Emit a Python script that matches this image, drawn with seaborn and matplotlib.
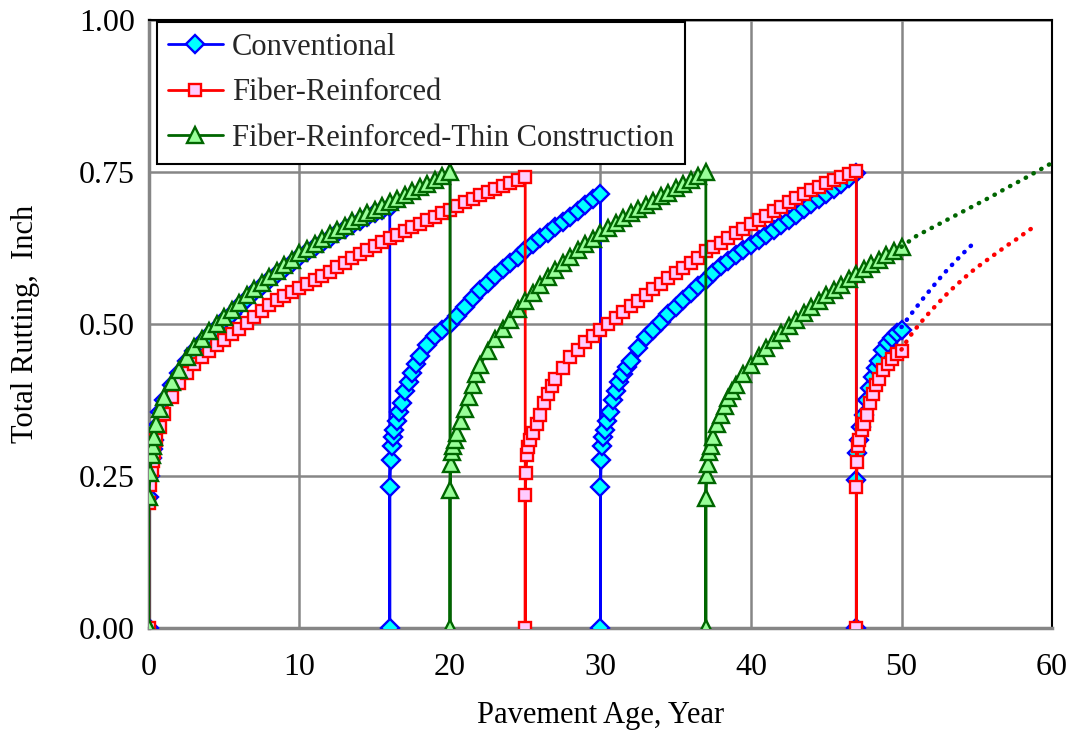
import numpy as np
import pandas as pd
import matplotlib
matplotlib.use('Agg')
import matplotlib.pyplot as plt
import seaborn as sns

# ---- data (age in years, total rutting in inch) ----
conv_age = [0, 0, 0.08, 0.17, 0.25, 0.33, 0.5, 0.75, 1,
            1.5, 2, 2.5, 3, 3.5, 4, 4.5, 5, 5.5, 6, 6.5, 7, 7.5, 8, 8.5, 9, 9.5, 10,
            10.5, 11, 11.5, 12, 12.5, 13, 13.5, 14, 14.5, 15, 15.5, 16,
            16, 16, 16.05, 16.12, 16.2, 16.3, 16.45, 16.6, 16.8, 17, 17.25, 17.5, 17.75, 18,
            18.5, 19, 19.5, 20, 20.5, 21, 21.5, 22, 22.5, 23, 23.5, 24, 24.5, 25,
            25.5, 26, 26.5, 27, 27.5, 28, 28.5, 29, 29.5, 30,
            30, 30, 30.05, 30.12, 30.2, 30.3, 30.45, 30.6, 30.8, 31, 31.25, 31.5, 31.75, 32,
            32.5, 33, 33.5, 34, 34.5, 35, 35.5, 36, 36.5, 37, 37.5, 38, 38.5, 39, 39.5, 40,
            40.5, 41, 41.5, 42, 42.5, 43, 43.5, 44, 44.5, 45, 45.5, 46, 46.5, 47,
            47, 47, 47.05, 47.15, 47.3, 47.5, 47.7, 47.9, 48.1, 48.3, 48.5, 48.8, 49.1, 49.4, 49.7, 50]
conv_rut = [0, 0.215, 0.25, 0.28, 0.295, 0.31, 0.33, 0.355, 0.375,
            0.40, 0.42, 0.44, 0.456, 0.47, 0.482, 0.494, 0.506, 0.517, 0.529, 0.541, 0.552, 0.562,
            0.572, 0.582, 0.591, 0.60, 0.61, 0.618, 0.626, 0.634, 0.642, 0.649, 0.656, 0.663,
            0.67, 0.676, 0.682, 0.688, 0.693,
            0, 0.232, 0.276, 0.30, 0.315, 0.325, 0.34, 0.355, 0.37, 0.39, 0.405, 0.42, 0.435, 0.448,
            0.465, 0.48, 0.49, 0.50, 0.514, 0.528, 0.542, 0.556, 0.568, 0.579, 0.59, 0.60, 0.611, 0.622,
            0.632, 0.641, 0.65, 0.659, 0.667, 0.676, 0.686, 0.695, 0.705, 0.714,
            0, 0.232, 0.276, 0.30, 0.315, 0.325, 0.34, 0.355, 0.375, 0.39, 0.405, 0.418, 0.43, 0.44,
            0.46, 0.478, 0.49, 0.503, 0.516, 0.528, 0.54, 0.551, 0.562, 0.573, 0.584, 0.595, 0.604,
            0.613, 0.622, 0.63, 0.638, 0.646, 0.655, 0.663, 0.671, 0.68, 0.689, 0.697, 0.706, 0.714,
            0.722, 0.731, 0.74, 0.748,
            0, 0.243, 0.288, 0.31, 0.33, 0.35, 0.375, 0.395, 0.413, 0.428, 0.44, 0.457, 0.468, 0.477, 0.485, 0.49]

fib_age = [0, 0, 0.08, 0.17, 0.25, 0.33, 0.5, 0.75, 1,
           1.5, 2, 2.5, 3, 3.5, 4, 4.5, 5, 5.5, 6, 6.5, 7, 7.5, 8, 8.5, 9, 9.5, 10,
           10.5, 11, 11.5, 12, 12.5, 13, 13.5, 14, 14.5, 15, 15.5, 16, 16.5, 17, 17.5, 18,
           18.5, 19, 19.5, 20, 20.5, 21, 21.5, 22, 22.5, 23, 23.5, 24, 24.5, 25,
           25, 25, 25.05, 25.12, 25.2, 25.35, 25.5, 25.75, 26, 26.25, 26.5, 26.75, 27,
           27.5, 28, 28.5, 29, 29.5, 30, 30.5, 31, 31.5, 32, 32.5, 33, 33.5, 34, 34.5, 35,
           35.5, 36, 36.5, 37, 37.5, 38, 38.5, 39, 39.5, 40, 40.5, 41, 41.5, 42, 42.5, 43,
           43.5, 44, 44.5, 45, 45.5, 46, 46.5, 47,
           47, 47, 47.05, 47.12, 47.2, 47.35, 47.5, 47.7, 47.9, 48.1, 48.3, 48.5, 48.8, 49.1, 49.4, 49.7, 50]
fib_rut = [0, 0.205, 0.235, 0.26, 0.275, 0.29, 0.31, 0.33, 0.352,
           0.38, 0.403, 0.42, 0.435, 0.445, 0.455, 0.465, 0.474, 0.483, 0.492, 0.501, 0.511, 0.521,
           0.531, 0.539, 0.546, 0.553, 0.559, 0.566, 0.572, 0.579, 0.585, 0.593, 0.601, 0.608, 0.615,
           0.621, 0.628, 0.635, 0.641, 0.647, 0.653, 0.659, 0.665, 0.671, 0.676, 0.682, 0.688, 0.694,
           0.70, 0.706, 0.712, 0.717, 0.722, 0.727, 0.732, 0.737, 0.742,
           0, 0.219, 0.255, 0.285, 0.297, 0.31, 0.32, 0.335, 0.35, 0.37, 0.385, 0.398, 0.41,
           0.428, 0.445, 0.458, 0.47, 0.48, 0.49, 0.50, 0.51, 0.52, 0.529, 0.538, 0.548, 0.557, 0.566,
           0.575, 0.584, 0.592, 0.60, 0.608, 0.62, 0.627, 0.634, 0.642, 0.649, 0.656, 0.664, 0.671,
           0.678, 0.686, 0.693, 0.701, 0.708, 0.714, 0.72, 0.726, 0.732, 0.737, 0.742, 0.747, 0.752,
           0, 0.232, 0.273, 0.30, 0.31, 0.325, 0.335, 0.35, 0.37, 0.385, 0.40, 0.41, 0.425, 0.435,
           0.443, 0.45, 0.456]

thin_age = [0, 0, 0.08, 0.17, 0.25, 0.33, 0.5, 0.75, 1,
            1.5, 2, 2.5, 3, 3.5, 4, 4.5, 5, 5.5, 6, 6.5, 7, 7.5, 8, 8.5, 9, 9.5, 10,
            10.5, 11, 11.5, 12, 12.5, 13, 13.5, 14, 14.5, 15, 15.5, 16, 16.5, 17, 17.5, 18,
            18.5, 19, 19.5, 20,
            20, 20, 20.05, 20.12, 20.2, 20.35, 20.5, 20.75, 21, 21.25, 21.5, 21.75, 22,
            22.5, 23, 23.5, 24, 24.5, 25, 25.5, 26, 26.5, 27, 27.5, 28, 28.5, 29, 29.5, 30,
            30.5, 31, 31.5, 32, 32.5, 33, 33.5, 34, 34.5, 35, 35.5, 36, 36.5, 37,
            37, 37, 37.05, 37.12, 37.2, 37.35, 37.5, 37.75, 38, 38.25, 38.5, 38.75, 39,
            39.5, 40, 40.5, 41, 41.5, 42, 42.5, 43, 43.5, 44, 44.5, 45, 45.5, 46, 46.5, 47,
            47.5, 48, 48.5, 49, 49.5, 50]
thin_rut = [0, 0.215, 0.255, 0.285, 0.30, 0.315, 0.335, 0.36, 0.38,
            0.405, 0.425, 0.445, 0.462, 0.476, 0.488, 0.50, 0.512, 0.523, 0.535, 0.547, 0.558, 0.568,
            0.578, 0.588, 0.597, 0.606, 0.616, 0.624, 0.632, 0.64, 0.648, 0.655, 0.662, 0.669, 0.676,
            0.682, 0.688, 0.694, 0.70, 0.706, 0.712, 0.719, 0.725, 0.731, 0.737, 0.744, 0.75,
            0, 0.227, 0.27, 0.29, 0.30, 0.31, 0.32, 0.34, 0.36, 0.38, 0.40, 0.418, 0.432,
            0.455, 0.475, 0.492, 0.507, 0.525, 0.538, 0.551, 0.564, 0.577, 0.589, 0.60, 0.611, 0.621,
            0.631, 0.64, 0.649, 0.658, 0.666, 0.674, 0.682, 0.689, 0.696, 0.703, 0.71, 0.716, 0.723,
            0.73, 0.737, 0.744, 0.75,
            0, 0.214, 0.252, 0.27, 0.29, 0.30, 0.315, 0.335, 0.35, 0.365, 0.378, 0.39, 0.40,
            0.418, 0.433, 0.448, 0.461, 0.473, 0.485, 0.496, 0.507, 0.518, 0.528, 0.538, 0.547,
            0.556, 0.565, 0.574, 0.583, 0.591, 0.599, 0.606, 0.613, 0.62, 0.627]

# dotted projections beyond year 50
conv_proj_age = [50, 50.5, 51, 51.5, 52, 52.5, 53, 53.5, 54, 54.5, 55]
conv_proj_rut = [0.495, 0.512, 0.528, 0.544, 0.559, 0.574, 0.588, 0.601, 0.614, 0.626, 0.638]
fib_proj_age = [50, 50.5, 51, 51.5, 52, 52.5, 53, 53.5, 54, 54.5, 55, 55.5, 56, 56.5, 57, 57.5, 58, 58.5, 59]
fib_proj_rut = [0.458, 0.478, 0.494, 0.509, 0.523, 0.536, 0.549, 0.561, 0.572, 0.583, 0.593, 0.602,
                0.611, 0.62, 0.629, 0.637, 0.646, 0.655, 0.662]
thin_proj_age = [50, 51, 52, 53, 54, 55, 56, 57, 58, 59, 60]
thin_proj_rut = [0.627, 0.645, 0.658, 0.671, 0.684, 0.697, 0.71, 0.724, 0.737, 0.751, 0.765]

series_names = ['Conventional', 'Fiber-Reinforced', 'Fiber-Reinforced-Thin Construction']

sns.set_theme(style='white')
plt.rcParams['font.family'] = ['Liberation Serif', 'DejaVu Serif']
plt.rcParams['font.size'] = 22

fig, ax = plt.subplots(figsize=(10.77, 7.33), dpi=100)
fig.subplots_adjust(left=0.1383, right=0.9768, top=0.9727, bottom=0.1432)

styles = [
    (series_names[0], conv_age, conv_rut, conv_proj_age, conv_proj_rut, '#0000FF', '#00FFFF', 'D', 9.5),
    (series_names[1], fib_age, fib_rut, fib_proj_age, fib_proj_rut, '#FF0000', '#FFCCFF', 's', 8.5),
    (series_names[2], thin_age, thin_rut, thin_proj_age, thin_proj_rut, '#006600', '#99FF99', '^', 11.5),
]

for name, age, rut, p_age, p_rut, col, face, mk, ms in styles:
    df = pd.DataFrame({'age': age, 'rut': rut})
    sns.lineplot(data=df, x='age', y='rut', ax=ax, sort=False, estimator=None,
                 color=col, lw=2, marker=mk, markersize=ms, markerfacecolor=face,
                 markeredgecolor=col, markeredgewidth=1.7, label=name, zorder=3)

for name, age, rut, p_age, p_rut, col, face, mk, ms in styles:
    pdf = pd.DataFrame({'age': p_age, 'rut': p_rut})
    sns.lineplot(data=pdf, x='age', y='rut', ax=ax, sort=False, estimator=None,
                 color=col, lw=3.2, linestyle=(0, (0.1, 1.9)), dash_capstyle='round',
                 legend=False, zorder=3)

ax.set_xlim(0, 60)
ax.set_ylim(0, 1.0)
ax.set_xticks(range(0, 61, 10))
ax.set_yticks([0, 0.25, 0.5, 0.75, 1.0])
ax.yaxis.set_major_formatter(matplotlib.ticker.FormatStrFormatter('%.2f'))
ax.tick_params(axis='both', length=0, labelsize=23, colors='black')
ax.tick_params(axis='x', pad=18)
ax.tick_params(axis='y', pad=10)
ax.grid(True, color='#868686', lw=1.8)
ax.set_axisbelow(True)

for side in ['top', 'right']:
    ax.spines[side].set_color('black')
    ax.spines[side].set_linewidth(1.5)
for side in ['left', 'bottom']:
    ax.spines[side].set_color('#868686')
    ax.spines[side].set_linewidth(2.5)

ax.set_xlabel('Pavement Age, Year', fontsize=22, labelpad=14, color='black')
ax.set_ylabel('Total Rutting,  Inch', fontsize=22, labelpad=28, color='black')

leg = ax.legend(loc='upper left', bbox_to_anchor=(0.009, 0.997), fontsize=22,
                frameon=True, fancybox=False, edgecolor='black', framealpha=1,
                handlelength=1.8, handletextpad=0.3, borderpad=0.35, labelspacing=0.55,
                borderaxespad=0)
leg.get_frame().set_linewidth(1.5)

fig.savefig('out.png', dpi=100)
